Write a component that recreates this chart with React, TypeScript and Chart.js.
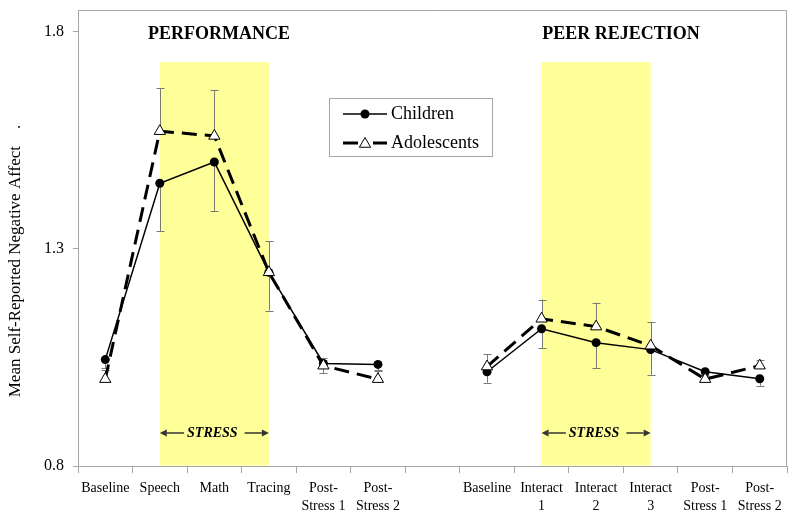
import React, { useEffect, useRef } from "react";
import { Chart, registerables } from "chart.js";

Chart.register(...registerables);

// ---------- data ----------
const categories: (string | string[])[] = [
  "Baseline", "Speech", "Math", "Tracing", ["Post-", "Stress 1"], ["Post-", "Stress 2"],
  "",
  "Baseline", ["Interact", "1"], ["Interact", "2"], ["Interact", "3"], ["Post-", "Stress 1"], ["Post-", "Stress 2"],
];
const seriesNames = ["Children", "Adolescents"];
const children = [1.045, 1.451, 1.5, 1.246, 1.036, 1.034, null, 1.017, 1.116, 1.084, 1.068, 1.017, 1.001];
const adolescents = [1.0, 1.571, 1.56, 1.246, 1.031, 1.0, null, 1.029, 1.139, 1.121, 1.077, 1.0, 1.031];
// children: error bar drawn downward; adolescents: error bar drawn upward
const childrenErrMinus = [0.02, 0.111, 0.113, 0.088, 0.023, 0.015, null, 0.025, 0.044, 0.058, 0.058, 0.01, 0.016];
const adolescentsErrPlus = [0.02, 0.099, 0.106, 0.072, 0.018, 0.02, null, 0.028, 0.044, 0.055, 0.055, 0.01, 0.014];
const yTicks = [0.8, 1.3, 1.8];
const yMin = 0.8;
const yMax = 1.85;
const stressBands = [[1, 3], [8, 10]]; // category index ranges (Speech–Tracing, Interact 1–3)
const stressBandTop = 1.73;
const panelTitles = ["PERFORMANCE", "PEER REJECTION"];
const stressLabel = "STRESS";
const yTitle = "Mean Self-Reported Negative Affect    .";

const SERIF = "'Liberation Serif', 'Times New Roman', serif";

function drawTriangle(ctx: CanvasRenderingContext2D, cx: number, cy: number, r: number) {
  ctx.beginPath();
  ctx.moveTo(cx, cy - r);
  ctx.lineTo(cx + r * 0.866, cy + r * 0.5);
  ctx.lineTo(cx - r * 0.866, cy + r * 0.5);
  ctx.closePath();
  ctx.fillStyle = "#ffffff";
  ctx.fill();
  ctx.strokeStyle = "#000000";
  ctx.lineWidth = 1;
  ctx.stroke();
}

function arrow(ctx: CanvasRenderingContext2D, xFrom: number, xTo: number, y: number) {
  const dir = xTo > xFrom ? 1 : -1;
  const head = 7;
  ctx.beginPath();
  ctx.moveTo(xFrom, y);
  ctx.lineTo(xTo - dir * head, y);
  ctx.lineWidth = 1.5;
  ctx.strokeStyle = "#333333";
  ctx.stroke();
  ctx.beginPath();
  ctx.moveTo(xTo, y);
  ctx.lineTo(xTo - dir * head, y - 3.5);
  ctx.lineTo(xTo - dir * head, y + 3.5);
  ctx.closePath();
  ctx.fillStyle = "#333333";
  ctx.fill();
}

const decor = {
  id: "decor",
  beforeDatasetsDraw(chart: any) {
    const { ctx, chartArea, scales } = chart;
    const x = scales.x;
    const y = scales.y;
    ctx.save();
    // yellow stress bands
    ctx.fillStyle = "#FFFF99";
    for (const [a, b] of stressBands) {
      const x0 = x.getPixelForValue(a);
      const x1 = x.getPixelForValue(b);
      const yt = y.getPixelForValue(stressBandTop);
      ctx.fillRect(x0, yt, x1 - x0, chartArea.bottom - yt - 0.5);
    }
    // error bars
    ctx.strokeStyle = "#7a7a70";
    ctx.lineWidth = 1;
    const cap = 4;
    const bar = (i: number, v0: number, v1: number) => {
      const px = Math.round(x.getPixelForValue(i)) + 0.5;
      const p0 = y.getPixelForValue(v0);
      const p1 = y.getPixelForValue(v1);
      ctx.beginPath();
      ctx.moveTo(px, p0);
      ctx.lineTo(px, p1);
      ctx.moveTo(px - cap, Math.round(p1) + 0.5);
      ctx.lineTo(px + cap, Math.round(p1) + 0.5);
      ctx.stroke();
    };
    for (let i = 0; i < categories.length; i++) {
      const c = children[i];
      const ce = childrenErrMinus[i];
      if (c != null && ce != null) bar(i, c, c - ce);
      const a = adolescents[i];
      const ae = adolescentsErrPlus[i];
      if (a != null && ae != null) bar(i, a, a + ae);
    }
    ctx.restore();
  },
  afterDraw(chart: any) {
    const { ctx, chartArea, scales } = chart;
    const x = scales.x;
    ctx.save();
    // frame
    ctx.strokeStyle = "#a6a6a6";
    ctx.lineWidth = 1;
    ctx.beginPath();
    ctx.moveTo(chartArea.left + 0.5, chartArea.bottom);
    ctx.lineTo(chartArea.left + 0.5, chartArea.top + 0.5);
    ctx.lineTo(chartArea.right - 0.5, chartArea.top + 0.5);
    ctx.lineTo(chartArea.right - 0.5, chartArea.bottom);
    ctx.stroke();

    // panel titles
    const w = chartArea.right - chartArea.left;
    ctx.fillStyle = "#000000";
    ctx.font = `bold 18px ${SERIF}`;
    ctx.textAlign = "center";
    ctx.textBaseline = "middle";
    ctx.fillText(panelTitles[0], chartArea.left + w * 0.199, chartArea.top + 24);
    ctx.fillText(panelTitles[1], chartArea.left + w * 0.766, chartArea.top + 24);

    // STRESS labels with arrows
    ctx.font = `italic bold 14px ${SERIF}`;
    const sy = chartArea.bottom - 33;
    for (const [a, b] of stressBands) {
      const x0 = x.getPixelForValue(a);
      const x1 = x.getPixelForValue(b);
      const cx = (x0 + x1) / 2 - 2;
      const tw = ctx.measureText(stressLabel).width;
      ctx.fillStyle = "#000000";
      ctx.textAlign = "center";
      ctx.fillText(stressLabel, cx, sy);
      arrow(ctx, cx - tw / 2 - 3, x0, sy);
      arrow(ctx, cx + tw / 2 + 7, x1, sy);
    }

    // legend
    const lx = 329.5, ly = 98.5, lw = 163, lh = 58;
    ctx.strokeStyle = "#a6a6a6";
    ctx.lineWidth = 1;
    ctx.strokeRect(lx, ly, lw, lh);
    const rows = [114, 143];
    // children
    ctx.beginPath();
    ctx.moveTo(343, rows[0]);
    ctx.lineTo(387, rows[0]);
    ctx.strokeStyle = "#000000";
    ctx.lineWidth = 1.5;
    ctx.stroke();
    ctx.beginPath();
    ctx.arc(365, rows[0], 4.5, 0, Math.PI * 2);
    ctx.fillStyle = "#000000";
    ctx.fill();
    // adolescents
    ctx.lineWidth = 3;
    ctx.beginPath();
    ctx.moveTo(343, rows[1]);
    ctx.lineTo(358, rows[1]);
    ctx.moveTo(373, rows[1]);
    ctx.lineTo(387, rows[1]);
    ctx.stroke();
    drawTriangle(ctx, 365, rows[1] + 1, 6.5);
    ctx.fillStyle = "#000000";
    ctx.font = `18px ${SERIF}`;
    ctx.textAlign = "left";
    ctx.textBaseline = "middle";
    ctx.fillText(seriesNames[0], 391, rows[0]);
    ctx.fillText(seriesNames[1], 391, rows[1]);

    // y axis title
    ctx.translate(16, 261);
    ctx.rotate(-Math.PI / 2);
    ctx.font = `17px ${SERIF}`;
    ctx.textAlign = "center";
    ctx.textBaseline = "middle";
    ctx.fillText(yTitle, 0, 0);
    ctx.restore();
  },
};

export default function App() {
  const ref = useRef<HTMLCanvasElement | null>(null);
  useEffect(() => {
    if (!ref.current) return;
    const chart = new Chart(ref.current, {
      type: "line",
      data: {
        labels: categories,
        datasets: [
          {
            label: seriesNames[0],
            data: children,
            borderColor: "#000000",
            borderWidth: 1.5,
            pointStyle: "circle",
            pointRadius: 4.5,
            pointBackgroundColor: "#000000",
            pointBorderColor: "#000000",
            pointBorderWidth: 0,
            spanGaps: false,
            order: 1,
          },
          {
            label: seriesNames[1],
            data: adolescents,
            borderColor: "#000000",
            borderWidth: 3,
            borderDash: [15, 8],
            pointStyle: "triangle",
            pointRadius: 6.5,
            pointBackgroundColor: "#ffffff",
            pointBorderColor: "#000000",
            pointBorderWidth: 1,
            spanGaps: false,
            order: 0,
          },
        ],
      },
      options: {
        responsive: false,
        animation: false,
        events: [],
        layout: { padding: { top: 10, right: 13, left: 0, bottom: 0 } },
        plugins: {
          legend: { display: false },
          tooltip: { enabled: false },
          title: { display: false },
        },
        scales: {
          x: {
            type: "category",
            offset: true,
            grid: {
              offset: true,
              drawOnChartArea: false,
              drawTicks: true,
              tickLength: 7,
              tickColor: "#a6a6a6",
            },
            border: { display: true, color: "#a6a6a6" },
            ticks: {
              color: "#000000",
              autoSkip: false,
              maxRotation: 0,
              padding: 6,
              font: { family: SERIF, size: 14, lineHeight: 1.3 },
            },
            afterFit: (s: any) => {
              s.height = 52;
            },
          },
          y: {
            min: yMin,
            max: yMax,
            afterBuildTicks: (s: any) => {
              s.ticks = yTicks.map((v) => ({ value: v }));
            },
            grid: {
              drawOnChartArea: false,
              drawTicks: true,
              tickLength: 5,
              tickColor: "#a6a6a6",
            },
            border: { display: true, color: "#a6a6a6" },
            ticks: {
              color: "#000000",
              padding: 9,
              font: { family: SERIF, size: 16 },
              callback: (v: any) => Number(v).toFixed(1),
            },
            afterFit: (s: any) => {
              s.width = 78;
              s.paddingTop = 0;
              s.paddingBottom = 0;
            },
          },
        },
      },
      plugins: [decor],
    });
    return () => chart.destroy();
  }, []);
  return (
    <div style={{ position: "absolute", left: 0, top: 0, width: 800, height: 518, background: "#fff" }}>
      <canvas ref={ref} width={800} height={518} />
    </div>
  );
}
